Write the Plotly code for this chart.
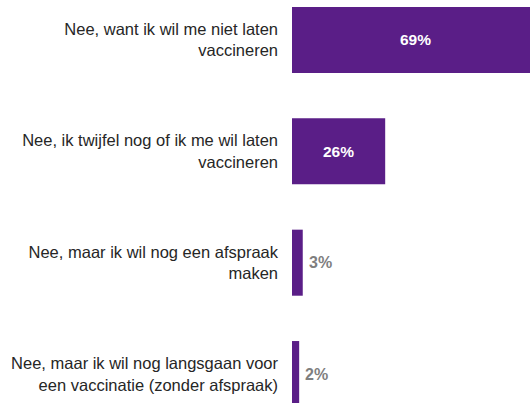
import plotly.graph_objects as go

# Survey answers (Dutch) and their shares in percent
categories = [
    "Nee, want ik wil me niet laten<br>vaccineren",
    "Nee, ik twijfel nog of ik me wil laten<br>vaccineren",
    "Nee, maar ik wil nog een afspraak<br>maken",
    "Nee, maar ik wil nog langsgaan voor<br>een vaccinatie (zonder afspraak)",
]
values = [69, 26, 3, 2]
value_labels = ["69%", "26%", "3%", "2%"]
label_inside = [True, True, False, False]

positions = list(range(len(categories)))

fig = go.Figure(
    go.Bar(
        x=values,
        y=positions,
        orientation="h",
        width=0.593,
        marker=dict(color="#5a1e87", line=dict(width=0)),
        textposition="none",
        hoverinfo="skip",
    )
)

# Value labels: centred in wide bars (white), just right of narrow bars (grey)
for pos, val, lab, inside in zip(positions, values, value_labels, label_inside):
    if inside:
        fig.add_annotation(
            x=val / 2, y=pos, text=lab, showarrow=False,
            xanchor="center", yanchor="middle",
            font=dict(color="#ffffff", size=15.5, family="Liberation Sans", weight="bold"),
        )
    else:
        fig.add_annotation(
            x=val, y=pos, text=lab, showarrow=False,
            xanchor="left", yanchor="middle", xshift=4,
            font=dict(color="#7f7f7f", size=16, family="Liberation Sans", weight="bold"),
        )

fig.update_layout(
    width=530,
    height=403,
    margin=dict(l=292, r=0, t=0, b=0),
    paper_bgcolor="#ffffff",
    plot_bgcolor="#ffffff",
    showlegend=False,
    xaxis=dict(
        range=[0, 66.4],
        visible=False,
        showgrid=False,
        zeroline=False,
    ),
    yaxis=dict(
        range=[3.26, -0.359],
        tickmode="array",
        tickvals=positions,
        ticktext=categories,
        ticks="",
        ticklabelstandoff=13,
        showgrid=False,
        zeroline=False,
        showline=False,
        tickfont=dict(family="Liberation Sans", size=16.5, color="#262626"),
    ),
)

fig.write_html("out.html")
